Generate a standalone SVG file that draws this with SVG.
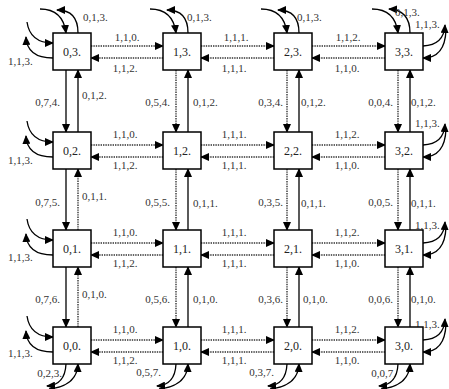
<svg xmlns="http://www.w3.org/2000/svg" width="449" height="389" viewBox="0 0 449 389">
<style>
.box{fill:#fff;stroke:#000;stroke-width:1.5}
.nl{font-family:"Liberation Serif",serif;font-size:12px;fill:#222;text-anchor:middle}
.lb{font-family:"Liberation Serif",serif;font-size:11px;fill:#333}
.m{text-anchor:middle}
.e{text-anchor:end}
.dot{fill:none;stroke:#333;stroke-width:1.4;stroke-dasharray:1.4 1}
.sol{fill:none;stroke:#000;stroke-width:1.3}
.arr{marker-end:url(#ah)}
</style>
<defs>
<marker id="ah" markerUnits="userSpaceOnUse" markerWidth="9" markerHeight="8" refX="8" refY="4" orient="auto">
<path d="M0,0 L9,4 L0,8 z" fill="#000"/>
</marker>
</defs>
<rect width="449" height="389" fill="#fff"/>
<g id="connectors">
<!-- horizontal row 3 -->
<line class="dot arr" x1="91" y1="46" x2="163" y2="46"/>
<line class="dot arr" x1="163" y1="58" x2="91" y2="58"/>
<line class="dot arr" x1="201" y1="46" x2="274" y2="46"/>
<line class="dot arr" x1="274" y1="58" x2="201" y2="58"/>
<line class="dot arr" x1="312" y1="46" x2="385" y2="46"/>
<line class="dot arr" x1="385" y1="58" x2="312" y2="58"/>
<!-- row 2 -->
<line class="dot arr" x1="91" y1="145" x2="163" y2="145"/>
<line class="dot arr" x1="163" y1="157" x2="91" y2="157"/>
<line class="dot arr" x1="201" y1="145" x2="274" y2="145"/>
<line class="dot arr" x1="274" y1="157" x2="201" y2="157"/>
<line class="dot arr" x1="312" y1="145" x2="385" y2="145"/>
<line class="dot arr" x1="385" y1="157" x2="312" y2="157"/>
<!-- row 1 -->
<line class="dot arr" x1="91" y1="243" x2="163" y2="243"/>
<line class="dot arr" x1="163" y1="255" x2="91" y2="255"/>
<line class="dot arr" x1="201" y1="243" x2="274" y2="243"/>
<line class="dot arr" x1="274" y1="255" x2="201" y2="255"/>
<line class="dot arr" x1="312" y1="243" x2="385" y2="243"/>
<line class="dot arr" x1="385" y1="255" x2="312" y2="255"/>
<!-- row 0 -->
<line class="dot arr" x1="91" y1="340" x2="163" y2="340"/>
<line class="dot arr" x1="163" y1="352" x2="91" y2="352"/>
<line class="dot arr" x1="201" y1="340" x2="274" y2="340"/>
<line class="dot arr" x1="274" y1="352" x2="201" y2="352"/>
<line class="dot arr" x1="312" y1="340" x2="385" y2="340"/>
<line class="dot arr" x1="385" y1="352" x2="312" y2="352"/>
<!-- vertical col 0 -->
<line class="sol arr" x1="66" y1="70" x2="66" y2="132"/>
<line class="sol arr" x1="78" y1="132" x2="78" y2="70"/>
<line class="sol arr" x1="66" y1="169" x2="66" y2="230"/>
<line class="dot arr" x1="78" y1="230" x2="78" y2="169"/>
<line class="sol arr" x1="66" y1="267" x2="66" y2="327"/>
<line class="dot arr" x1="78" y1="327" x2="78" y2="267"/>
<!-- col 1 -->
<line class="dot arr" x1="176" y1="70" x2="176" y2="132"/>
<line class="sol arr" x1="188" y1="132" x2="188" y2="70"/>
<line class="dot arr" x1="176" y1="169" x2="176" y2="230"/>
<line class="sol arr" x1="188" y1="230" x2="188" y2="169"/>
<line class="dot arr" x1="176" y1="267" x2="176" y2="327"/>
<line class="sol arr" x1="188" y1="327" x2="188" y2="267"/>
<!-- col 2 -->
<line class="dot arr" x1="287" y1="70" x2="287" y2="132"/>
<line class="sol arr" x1="299" y1="132" x2="299" y2="70"/>
<line class="dot arr" x1="287" y1="169" x2="287" y2="230"/>
<line class="sol arr" x1="299" y1="230" x2="299" y2="169"/>
<line class="dot arr" x1="287" y1="267" x2="287" y2="327"/>
<line class="sol arr" x1="299" y1="327" x2="299" y2="267"/>
<!-- col 3 -->
<line class="dot arr" x1="398" y1="70" x2="398" y2="132"/>
<line class="sol arr" x1="410" y1="132" x2="410" y2="70"/>
<line class="dot arr" x1="398" y1="169" x2="398" y2="230"/>
<line class="sol arr" x1="410" y1="230" x2="410" y2="169"/>
<line class="dot arr" x1="398" y1="267" x2="398" y2="327"/>
<line class="sol arr" x1="410" y1="327" x2="410" y2="267"/>
<!-- top loops -->
<path class="sol arr" d="M40,9 Q63,9 66,33"/>
<path class="sol arr" d="M78,33 Q78,10 57,10"/>
<path class="sol arr" d="M150,9 Q173,9 176,33"/>
<path class="sol arr" d="M188,33 Q188,10 167,10"/>
<path class="sol arr" d="M261,9 Q284,9 287,33"/>
<path class="sol arr" d="M299,33 Q299,10 278,10"/>
<path class="sol arr" d="M372,9 Q395,9 398,33"/>
<path class="sol arr" d="M410,33 Q410,10 389,9"/>
<!-- left loops -->
<path class="sol arr" d="M27,22 Q30,43 53,43"/>
<path class="sol arr" d="M53,58 Q27,58 26,37"/>
<path class="sol arr" d="M27,121 Q30,142 53,142"/>
<path class="sol arr" d="M53,157 Q27,157 26,136"/>
<path class="sol arr" d="M27,219 Q30,240 53,240"/>
<path class="sol arr" d="M53,255 Q27,255 26,234"/>
<path class="sol arr" d="M27,316 Q30,337 53,337"/>
<path class="sol arr" d="M53,352 Q27,352 26,331"/>
<!-- right loops -->
<path class="sol arr" d="M423,46 Q444,45 445,25"/>
<path class="sol arr" d="M446,30 Q445,58 423,58"/>
<path class="sol arr" d="M423,145 Q444,144 445,124"/>
<path class="sol arr" d="M446,129 Q445,157 423,157"/>
<path class="sol arr" d="M423,243 Q444,242 445,222"/>
<path class="sol arr" d="M446,227 Q445,255 423,255"/>
<path class="sol arr" d="M423,340 Q444,339 445,319"/>
<path class="sol arr" d="M446,324 Q445,352 423,352"/>
<!-- bottom loops -->
<path class="sol arr" d="M66,364 Q65,385 47,386"/>
<path class="sol arr" d="M49,389 Q77,386 78,364"/>
<path class="sol arr" d="M176,364 Q175,385 157,386"/>
<path class="sol arr" d="M159,389 Q187,386 188,364"/>
<path class="sol arr" d="M287,364 Q286,385 268,386"/>
<path class="sol arr" d="M270,389 Q298,386 299,364"/>
<path class="sol arr" d="M398,364 Q397,385 379,386"/>
<path class="sol arr" d="M381,389 Q409,386 410,364"/>
</g>
<g id="labels">
<text class="lb m" x="127" y="41">1,1,0.</text><text class="lb m" x="125" y="72">1,1,2.</text>
<text class="lb m" x="236" y="41">1,1,1.</text><text class="lb m" x="234" y="72">1,1,1.</text>
<text class="lb m" x="348" y="41">1,1,2.</text><text class="lb m" x="347" y="72">1,1,0.</text>
<text class="lb m" x="125" y="138">1,1,0.</text><text class="lb m" x="125" y="169">1,1,2.</text>
<text class="lb m" x="234" y="138">1,1,1.</text><text class="lb m" x="234" y="169">1,1,1.</text>
<text class="lb m" x="347" y="138">1,1,2.</text><text class="lb m" x="347" y="169">1,1,0.</text>
<text class="lb m" x="125" y="236">1,1,0.</text><text class="lb m" x="125" y="267">1,1,2.</text>
<text class="lb m" x="234" y="236">1,1,1.</text><text class="lb m" x="234" y="267">1,1,1.</text>
<text class="lb m" x="347" y="236">1,1,2.</text><text class="lb m" x="347" y="267">1,1,0.</text>
<text class="lb m" x="125" y="333">1,1,0.</text><text class="lb m" x="125" y="364">1,1,2.</text>
<text class="lb m" x="234" y="333">1,1,1.</text><text class="lb m" x="234" y="364">1,1,1.</text>
<text class="lb m" x="347" y="333">1,1,2.</text><text class="lb m" x="347" y="364">1,1,0.</text>
<text class="lb e" x="60" y="106">0,7,4.</text><text class="lb" x="82" y="99">0,1,2.</text>
<text class="lb e" x="170" y="106">0,5,4.</text><text class="lb" x="193" y="106">0,1,2.</text>
<text class="lb e" x="283" y="106">0,3,4.</text><text class="lb" x="301" y="106">0,1,2.</text>
<text class="lb e" x="393" y="106">0,0,4.</text><text class="lb" x="411" y="106">0,1,2.</text>
<text class="lb e" x="60" y="206">0,7,5.</text><text class="lb" x="82" y="200">0,1,1.</text>
<text class="lb e" x="170" y="206">0,5,5.</text><text class="lb" x="193" y="207">0,1,1.</text>
<text class="lb e" x="283" y="206">0,3,5.</text><text class="lb" x="301" y="207">0,1,1.</text>
<text class="lb e" x="393" y="206">0,0,5.</text><text class="lb" x="411" y="207">0,1,1.</text>
<text class="lb e" x="60" y="303">0,7,6.</text><text class="lb" x="82" y="298">0,1,0.</text>
<text class="lb e" x="170" y="303">0,5,6.</text><text class="lb" x="193" y="303">0,1,0.</text>
<text class="lb e" x="283" y="303">0,3,6.</text><text class="lb" x="303" y="303">0,1,0.</text>
<text class="lb e" x="393" y="303">0,0,6.</text><text class="lb" x="411" y="303">0,1,0.</text>
<text class="lb" x="83" y="21">0,1,3.</text>
<text class="lb" x="187" y="21">0,1,3.</text>
<text class="lb" x="297" y="21">0,1,3.</text>
<text class="lb" x="395" y="16">0,1,3.</text>
<text class="lb" x="8" y="65">1,1,3.</text>
<text class="lb" x="8" y="164">1,1,3.</text>
<text class="lb" x="8" y="261">1,1,3.</text>
<text class="lb" x="8" y="357">1,1,3.</text>
<text class="lb" x="415" y="28">1,1,3.</text>
<text class="lb" x="415" y="127">1,1,3.</text>
<text class="lb" x="415" y="229">1,1,3.</text>
<text class="lb" x="415" y="328">1,1,3.</text>
<text class="lb e" x="62" y="377">0,2,3.</text>
<text class="lb e" x="161" y="376">0,5,7.</text>
<text class="lb e" x="274" y="376">0,3,7.</text>
<text class="lb e" x="396" y="377">0,0,7.</text>
</g>
<g id="n03"><rect class="box" x="53" y="33" width="38" height="37"/><text class="nl" x="72" y="56">0,3.</text></g>
<g id="n13"><rect class="box" x="163" y="33" width="38" height="37"/><text class="nl" x="182" y="56">1,3.</text></g>
<g id="n23"><rect class="box" x="274" y="33" width="38" height="37"/><text class="nl" x="293" y="56">2,3.</text></g>
<g id="n33"><rect class="box" x="385" y="33" width="38" height="37"/><text class="nl" x="404" y="56">3,3.</text></g>
<g id="n02"><rect class="box" x="53" y="132" width="38" height="37"/><text class="nl" x="72" y="155">0,2.</text></g>
<g id="n12"><rect class="box" x="163" y="132" width="38" height="37"/><text class="nl" x="182" y="155">1,2.</text></g>
<g id="n22"><rect class="box" x="274" y="132" width="38" height="37"/><text class="nl" x="293" y="155">2,2.</text></g>
<g id="n32"><rect class="box" x="385" y="132" width="38" height="37"/><text class="nl" x="404" y="155">3,2.</text></g>
<g id="n01"><rect class="box" x="53" y="230" width="38" height="37"/><text class="nl" x="72" y="253">0,1.</text></g>
<g id="n11"><rect class="box" x="163" y="230" width="38" height="37"/><text class="nl" x="182" y="253">1,1.</text></g>
<g id="n21"><rect class="box" x="274" y="230" width="38" height="37"/><text class="nl" x="293" y="253">2,1.</text></g>
<g id="n31"><rect class="box" x="385" y="230" width="38" height="37"/><text class="nl" x="404" y="253">3,1.</text></g>
<g id="n00"><rect class="box" x="53" y="327" width="38" height="37"/><text class="nl" x="72" y="350">0,0.</text></g>
<g id="n10"><rect class="box" x="163" y="327" width="38" height="37"/><text class="nl" x="182" y="350">1,0.</text></g>
<g id="n20"><rect class="box" x="274" y="327" width="38" height="37"/><text class="nl" x="293" y="350">2,0.</text></g>
<g id="n30"><rect class="box" x="385" y="327" width="38" height="37"/><text class="nl" x="404" y="350">3,0.</text></g>
</svg>
